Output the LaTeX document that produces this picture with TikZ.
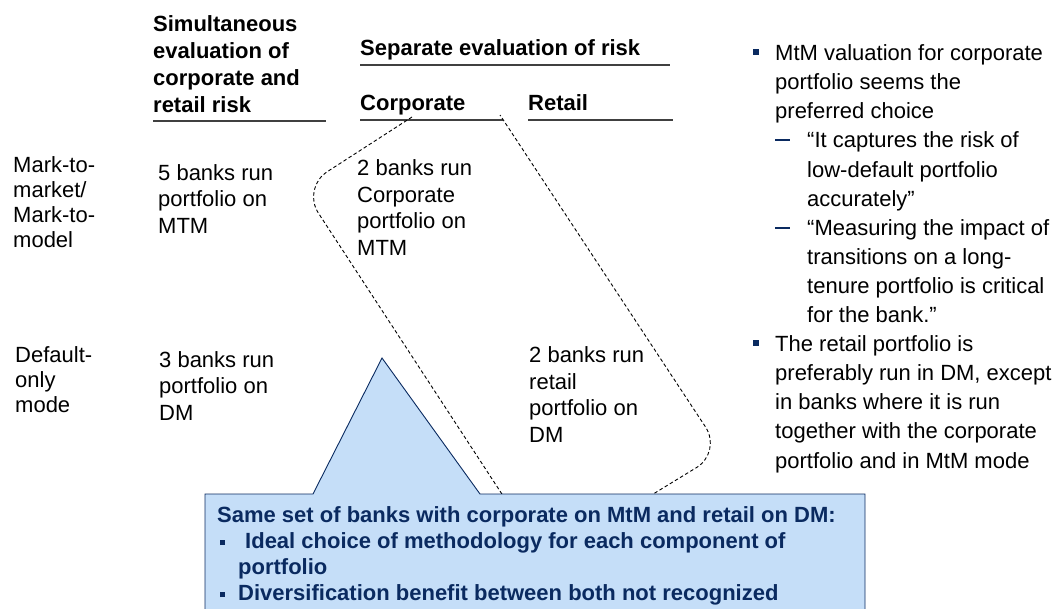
\documentclass[tikz,border=0pt]{standalone}
\usepackage{fontspec}
\setmainfont{Liberation Sans}
\definecolor{navy}{RGB}{10,42,96}
\definecolor{calloutblue}{RGB}{197,222,248}
\newcommand{\sqbul}{\textcolor{navy}{\rule[6pt]{6pt}{6pt}}}
\newcommand{\dashbul}{\textcolor{navy}{\rule[6.5pt]{15pt}{2pt}}}
\newcommand{\calbul}{\rule[3pt]{5pt}{5pt}}
\newcommand{\indentby}[1]{\makebox[#1][l]{}}
\begin{document}
\begin{tikzpicture}[x=1pt,y=-1pt,
    txt/.style={anchor=base west,inner sep=0pt,align=left,font=\fontsize{22}{26.5}\selectfont},
    rowlabel/.style={txt,font=\fontsize{22}{25}\selectfont},
    colhead/.style={txt,font=\fontsize{22}{26.7}\selectfont\bfseries},
    notes/.style={txt,font=\fontsize{22}{29.1}\selectfont},
    callouttext/.style={txt,text=navy,font=\fontsize{22}{26}\selectfont\bfseries},
    headrule/.style={draw=black!75,line width=1.5pt},
    groupline/.style={draw=black,line width=0.9pt,dash pattern=on 3.5pt off 2.5pt,rounded corners=30pt},
    calloutshape/.style={fill=calloutblue,draw=navy,line width=0.9pt}]
      \useasboundingbox (0,0) rectangle (1055,608);
      \clip (0,0) rectangle (1055,608);
      \node[colhead] (simhead) at (153,112) {Simultaneous\\evaluation of\\corporate and\\retail risk};
      \node[colhead] (sephead) at (360,55) {Separate evaluation of risk};
      \node[colhead] (corphead) at (360,110) {Corporate};
      \node[colhead] (rethead) at (528,110) {Retail};
      \draw[headrule] (153,121) -- (326,121);
      \draw[headrule] (360,65) -- (670,65);
      \draw[headrule] (360,120) -- (503,120);
      \draw[headrule] (528,120) -- (673,120);
      \node[rowlabel] (mtm) at (13,247) {Mark-to-\\market/\\Mark-to-\\model};
      \node[rowlabel] (dflt) at (15,412) {Default-\\only\\mode};
      \node[txt] (simmtm) at (158,233) {5 banks run\\portfolio on\\MTM};
      \node[txt] (corpmtm) at (357,255) {2 banks run\\Corporate\\portfolio on\\MTM};
      \node[txt] (simdm) at (159,420) {3 banks run\\portfolio on\\DM};
      \node[txt] (retdm) at (529,442) {2 banks run\\retail\\portfolio on\\DM};
      \coordinate (g1) at (412,117);
      \coordinate (g2) at (302,188);
      \coordinate (g3) at (545,560);
      \coordinate (g4) at (722,452);
      \coordinate (g5) at (500,115);
      \draw[groupline] (g1) -- (g2) -- (g3) -- (g4) -- (g5);
      \node[notes] (findings) at (753,468) {\makebox[22pt][l]{\sqbul}MtM valuation for corporate\\
        \indentby{22pt}portfolio seems the\\
        \indentby{22pt}preferred choice\\
        \indentby{22pt}\makebox[32pt][l]{\dashbul}“It captures the risk of\\
        \indentby{54pt}low-default portfolio\\
        \indentby{54pt}accurately”\\
        \indentby{22pt}\makebox[32pt][l]{\dashbul}“Measuring the impact of\\
        \indentby{54pt}transitions on a long-\\
        \indentby{54pt}tenure portfolio is critical\\
        \indentby{54pt}for the bank.”\\
        \makebox[22pt][l]{\sqbul}The retail portfolio is\\
        \indentby{22pt}preferably run in DM, except\\
        \indentby{22pt}in banks where it is run\\
        \indentby{22pt}together with the corporate\\
        \indentby{22pt}portfolio and in MtM mode};
      \draw[calloutshape] (205,494) -- (313,494) -- (382,358) -- (480,494) -- (865,494) -- (865,620) -- (205,620) -- cycle;
      \node[callouttext] (summary) at (217,600) {Same set of banks with corporate on MtM and retail on DM:\\
        \makebox[21pt][l]{\hspace{3pt}\calbul}\hspace{7pt}Ideal choice of methodology for each component of\\
        \indentby{21pt}portfolio\\
        \makebox[21pt][l]{\hspace{3pt}\calbul}Diversification benefit between both not recognized};
    \end{tikzpicture}
\end{document}
